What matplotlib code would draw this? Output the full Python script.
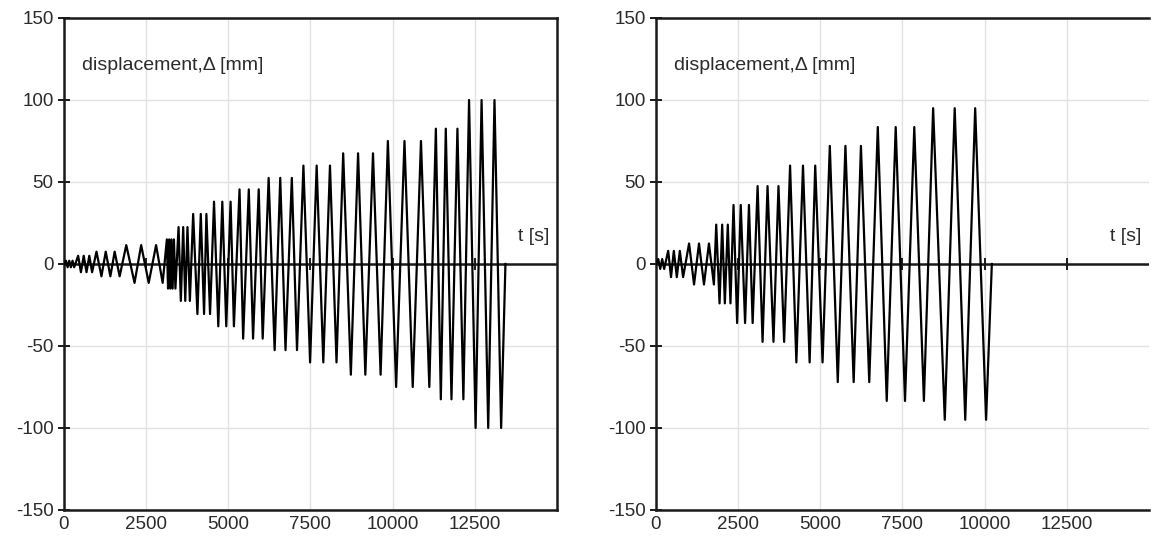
"""Cyclic displacement histories of two specimens: displacement vs. time."""
import matplotlib.pyplot as plt

plt.rcParams["font.family"] = ["Liberation Sans", "DejaVu Sans"]
plt.rcParams["axes.unicode_minus"] = False

INK = "#1a1a1a"
TEXT = "#2b2b2b"
GRID = "#e2e2e2"

# each block of cycles: amplitude [mm], times of positive peaks and of negative peaks [s]
LEFT_AMP = [2, 5, 7.5, 11.5, 15, 22.5, 30.5, 38, 45.5, 52.5, 60, 67.5, 75, 82.5, 100]
LEFT_TOPS = [
    [60, 160, 260], [430, 600, 770], [988, 1270, 1542], [1895, 2348, 2802],
    [3130, 3200, 3270, 3345], [3486, 3627, 3757], [3930, 4162, 4333], [4565, 4817, 5069],
    [5341, 5623, 5925], [6227, 6580, 6932], [7285, 7688, 8093], [8495, 8948, 9402],
    [9855, 10360, 10862], [11315, 11617, 11971], [12325, 12706, 13099],
]
LEFT_BOTTOMS = [
    [110, 210, 310], [515, 685, 855], [1139, 1411, 1693], [2146, 2578, 3002],
    [3165, 3235, 3305, 3390], [3555, 3690, 3830], [4060, 4262, 4444], [4695, 4937, 5170],
    [5451, 5753, 6046], [6409, 6740, 7090], [7488, 7890, 8292], [8728, 9169, 9634],
    [10106, 10611, 11116], [11466, 11790, 12152], [12524, 12908, 13301],
]
LEFT_END = 13432

RIGHT_AMP = [3, 8, 12.5, 24, 36, 47.5, 60, 72, 83.5, 95]
RIGHT_TOPS = [
    [70, 190], [372, 544, 726], [1008, 1310, 1612], [1834, 2015, 2186],
    [2360, 2580, 2830], [3093, 3395, 3728], [4081, 4474, 4846], [5290, 5765, 6237],
    [6750, 7295, 7860], [8434, 9090, 9713],
]
RIGHT_BOTTOMS = [
    [130, 250], [458, 635, 826], [1159, 1461, 1763], [1935, 2096, 2267],
    [2470, 2712, 2942], [3244, 3576, 3900], [4272, 4676, 5069], [5532, 6016, 6490],
    [7022, 7578, 8153], [8788, 9411, 10045],
]
RIGHT_END = 10220

X_TICKS = [0, 2500, 5000, 7500, 10000, 12500]
Y_TICKS = [-150, -100, -50, 0, 50, 100, 150]


def history(amps, tops, bottoms, end):
    pts = [(0.0, 0.0)]
    for amp, tt, bb in zip(amps, tops, bottoms):
        pts += [(t, amp) for t in tt] + [(t, -amp) for t in bb]
    pts.sort()
    pts.append((end, 0.0))
    t, d = zip(*pts)
    return t, d


def plot_one(ax, t, d):
    ax.set_xlim(0, 15000)
    ax.set_ylim(-150, 150)
    ax.set_xticks(X_TICKS)
    ax.set_yticks(Y_TICKS)
    ax.grid(True, color=GRID, linewidth=1.0, zorder=0)
    for spine in ax.spines.values():
        spine.set_color(INK)
        spine.set_linewidth(1.8)
    ax.tick_params(axis="y", direction="inout", length=9, width=1.4, color=INK,
                   labelsize=13.5, labelcolor=TEXT, pad=3)
    ax.tick_params(axis="x", length=0, labelsize=13.5, labelcolor=TEXT, pad=4)

    ax.axhline(0, color=INK, linewidth=1.8, zorder=2)
    ax.plot(X_TICKS[1:], [0] * (len(X_TICKS) - 1), linestyle="none", marker="|",
            markersize=9, markeredgewidth=1.4, color=INK, zorder=2)
    ax.plot(t, d, color="black", linewidth=1.6, zorder=3)

    ax.text(560, 121, "displacement,\u0394 [mm]", fontsize=14, color=TEXT,
            ha="left", va="center")
    ax.text(14780, 17, "t [s]", fontsize=14, color=TEXT, ha="right", va="center")


def main():
    fig = plt.figure(figsize=(11.51, 5.37), dpi=100, facecolor="white")
    ax_l = fig.add_axes([0.0556, 0.0503, 0.4283, 0.9162])
    ax_r = fig.add_axes([0.5699, 0.0503, 0.4283, 0.9162])

    plot_one(ax_l, *history(LEFT_AMP, LEFT_TOPS, LEFT_BOTTOMS, LEFT_END))
    plot_one(ax_r, *history(RIGHT_AMP, RIGHT_TOPS, RIGHT_BOTTOMS, RIGHT_END))
    ax_r.spines["right"].set_visible(False)

    fig.savefig("out.png", dpi=100, facecolor="white")
    plt.close(fig)


if __name__ == "__main__":
    main()
